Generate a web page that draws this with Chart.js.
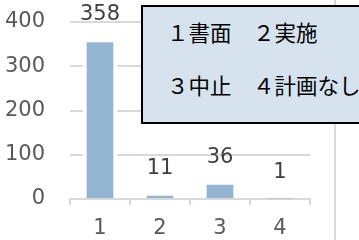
<!DOCTYPE html>
<html>
<head>
<meta charset="utf-8">
<script src="https://cdn.jsdelivr.net/npm/chart.js@4/dist/chart.umd.min.js"></script>
<style>
  html, body { margin:0; padding:0; background:#fff; }
  #wrap { position:relative; width:359px; height:240px; overflow:hidden; }
  #vline { position:absolute; left:334px; top:0; width:2px; height:240px; background:#d9d9d9; }
  #box { position:absolute; left:141px; top:5px; width:240px; height:119px; box-sizing:border-box;
         border:2px solid #000; background:#d6e3ef; font-family:"Noto Sans CJK JP", sans-serif;
         font-size:21.5px; color:#000; }
  #box div { position:absolute; left:24px; white-space:nowrap; line-height:1; }
</style>
</head>
<body>
<div id="wrap">
  <canvas id="c" width="359" height="240"></canvas>
  <div id="vline"></div>
  <div id="box">
    <div id="row1" style="top:14px">１書面　２実施</div>
    <div id="row2" style="top:67px">３中止　４計画なし</div>
  </div>
</div>
<script>
const categories = ['1', '2', '3', '4'];
const values = [358, 11, 36, 1];
const yTicks = [0, 100, 200, 300, 400];

const labelPlugin = {
  id: 'valueLabels',
  afterDatasetsDraw(chart) {
    const ctx = chart.ctx;
    const meta = chart.getDatasetMeta(0);
    ctx.save();
    ctx.font = '21px "DejaVu Sans"';
    ctx.fillStyle = '#404040';
    ctx.textAlign = 'center';
    ctx.textBaseline = 'middle';
    meta.data.forEach((bar, i) => {
      ctx.fillText(String(values[i]), bar.x, bar.y - 26);
    });
    ctx.restore();
  }
};

new Chart(document.getElementById('c'), {
  type: 'bar',
  data: {
    labels: categories,
    datasets: [{
      data: values,
      backgroundColor: '#94b4d4',
      borderColor: '#ffffff',
      borderWidth: {left: 4, right: 4, top: 2, bottom: 0},
      barThickness: 34
    }]
  },
  options: {
    responsive: false,
    animation: false,
    events: [],
    layout: { padding: { left: 0, right: 49, top: 22, bottom: 0 } },
    plugins: { legend: { display: false }, tooltip: { enabled: false } },
    scales: {
      y: {
        min: 0, max: 400,
        afterFit(s) { s.width = 70; s.paddingTop = 0; s.paddingBottom = 0; },
        afterBuildTicks(s) { s.ticks = yTicks.map(v => ({ value: v })); },
        grid: { color: '#d9d9d9', lineWidth: 2, drawTicks: false },
        border: { display: false },
        ticks: { padding: 25, color: '#595959', font: { family: 'DejaVu Sans', size: 21 } }
      },
      x: {
        afterFit(s) { s.height = 41; s.paddingLeft = 0; s.paddingRight = 0; },
        grid: { drawOnChartArea: false, drawTicks: true, tickLength: 6, color: '#d9d9d9', lineWidth: 2, offset: true },
        border: { display: true, color: '#d9d9d9', width: 2 },
        ticks: { padding: 11, color: '#595959', font: { family: 'DejaVu Sans', size: 21 } }
      }
    }
  },
  plugins: [labelPlugin]
});
</script>
</body>
</html>
